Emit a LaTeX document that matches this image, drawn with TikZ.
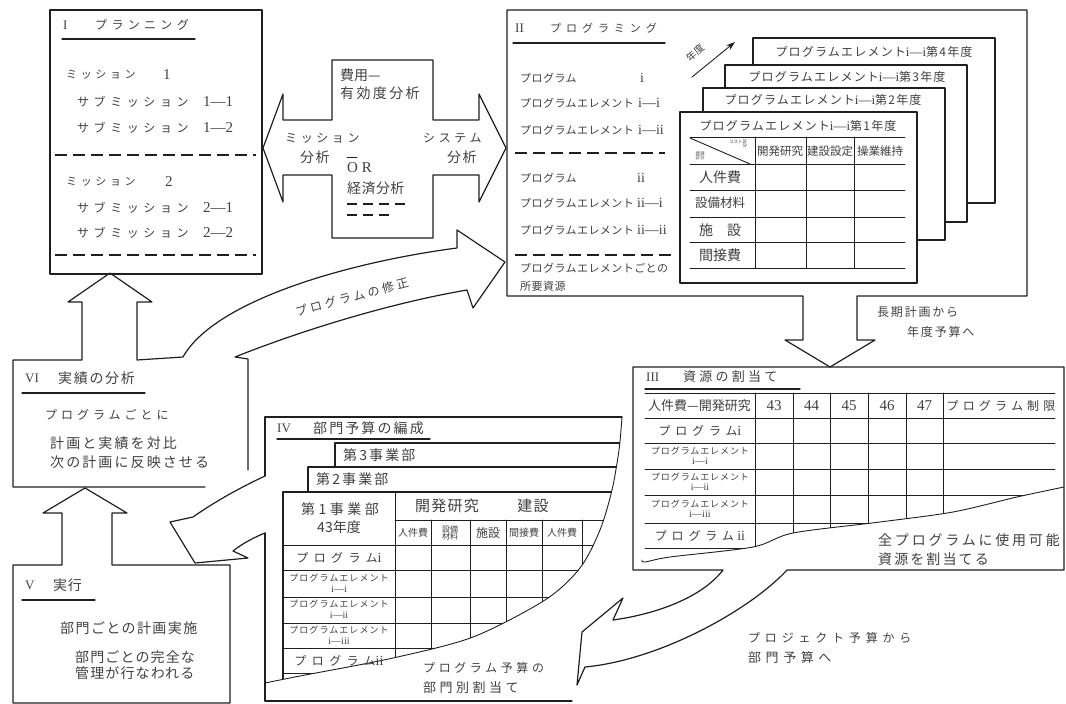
\documentclass[tikz,border=0pt]{standalone}
\usepackage{fontspec}
\newfontfamily\jp{Noto Sans CJK JP}
\newfontfamily\lat{Liberation Serif}
\usetikzlibrary{arrows.meta}
\definecolor{tc}{gray}{0.25}
\definecolor{lc}{gray}{0.12}
\newcommand\jf[2]{\jp\fontsize{#1}{#1}\selectfont\addfontfeatures{LetterSpace=#2}}
\newcommand\lf[1]{\lat\fontsize{#1}{#1}\selectfont}
\newcommand\PE[1]{{\jf{12}{10}プログラムエレメント}{\lf{13}i—i}{\jf{12}{10}第#1年度}}
\begin{document}
\begin{tikzpicture}[x=1pt,y=-1pt,line cap=round,line join=round,
  ln/.style={draw=lc,line width=1.2pt},
  gl/.style={draw=lc,line width=0.9pt},
  ds/.style={draw=lc,line width=1.4pt,line cap=butt,dash pattern=on 12pt off 6pt},
  tw/.style={inner sep=0pt,anchor=west,text=tc},
  tcn/.style={inner sep=0pt,anchor=center,text=tc,align=center}]
\useasboundingbox (0,0) rectangle (1066,704);

% ---------------- Panel I
\draw[ln] (50,10) rectangle (262,274);
\node[tw,font=\lf{13}] (p1a) at (63,25) {I};
\node[tw,font=\jf{12}{36}] (p1b) at (95,25) {プランニング};
\draw[ln] (62,39) -- (195,39);
\node[tw,font=\jf{11}{33}] (m1) at (66,75) {ミッション};
\node[tw,font=\lf{15}] (m1n) at (163,75) {1};
\node[tw,font=\jf{12}{38}] (s11) at (77,102) {サブミッション};
\node[tw,font=\lf{15}] (s11n) at (203,102) {1—1};
\node[tw,font=\jf{12}{38}] (s12) at (77,128) {サブミッション};
\node[tw,font=\lf{15}] (s12n) at (203,128) {1—2};
\draw[ds] (55,155) -- (256,155);
\node[tw,font=\jf{11}{33}] (m2) at (66,182) {ミッション};
\node[tw,font=\lf{15}] (m2n) at (165,182) {2};
\node[tw,font=\jf{12}{38}] (s21) at (77,208) {サブミッション};
\node[tw,font=\lf{15}] (s21n) at (203,208) {2—1};
\node[tw,font=\jf{12}{38}] (s22) at (77,233) {サブミッション};
\node[tw,font=\lf{15}] (s22n) at (203,233) {2—2};
\draw[ds] (55,255) -- (256,255);

% ---------------- Cross double arrow
\draw[ln] (332,60) -- (433,60) -- (433,120) -- (479,120) -- (479,94) -- (506,148)
  -- (479,202) -- (479,175) -- (433,175) -- (433,238) -- (332,238) -- (332,175)
  -- (283,175) -- (283,202) -- (263,148) -- (283,94) -- (283,120) -- (332,120) -- cycle;
\node[tw,font=\jf{14}{0}] (c1) at (340,75) {費用—};
\node[tw,font=\jf{14}{17}] (c2) at (340,93) {有効度分析};
\node[tw,font=\jf{12}{30}] (c3) at (285,138) {ミッション};
\node[tw,font=\jf{14}{10}] (c4) at (300,157) {分析};
\node[tw,font=\jf{12}{30}] (c5) at (423,138) {システム};
\node[tw,font=\jf{14}{10}] (c6) at (447,157) {分析};
\node[tw,font=\lf{15}] (c7) at (347,168) {O R};
\draw[gl] (347,157) -- (357,157);
\node[tw,font=\jf{14}{3}] (c8) at (347,188) {経済分析};
\draw[ln,line cap=butt,dash pattern=on 10pt off 6pt] (347,204) -- (405,204);
\draw[ln,line cap=butt,dash pattern=on 10pt off 6pt] (347,215) -- (392,215);

% ---------------- Panel II with down arrow to III
\draw[ln] (507,10) -- (1027,10) -- (1027,296) -- (857,296) -- (857,340) -- (875,340)
  -- (830,367) -- (785,340) -- (803,340) -- (803,296) -- (507,296) -- cycle;
\node[tw,font=\lf{13}] (p2a) at (515,28) {II};
\node[tw,font=\jf{11}{45}] (p2b) at (550,28) {プログラミング};
\draw[ln] (513,43) -- (665,43);
\node[tw,font=\jf{11}{4}] (q1) at (520,78) {プログラム};
\node[tw,font=\lf{14}] (q1n) at (640,78) {i};
\node[tw,font=\jf{11}{4}] (q2) at (520,103) {プログラムエレメント};
\node[tw,font=\lf{14}] (q2n) at (638,103) {i—i};
\node[tw,font=\jf{11}{4}] (q3) at (520,130) {プログラムエレメント};
\node[tw,font=\lf{14}] (q3n) at (638,130) {i—ii};
\draw[ds] (515,153) -- (665,153);
\node[tw,font=\jf{11}{4}] (q4) at (520,178) {プログラム};
\node[tw,font=\lf{14}] (q4n) at (637,178) {ii};
\node[tw,font=\jf{11}{4}] (q5) at (520,203) {プログラムエレメント};
\node[tw,font=\lf{14}] (q5n) at (637,203) {ii—i};
\node[tw,font=\jf{11}{4}] (q6) at (520,230) {プログラムエレメント};
\node[tw,font=\lf{14}] (q6n) at (637,230) {ii—ii};
\draw[ds] (515,255) -- (672,255);
\node[tw,font=\jf{11}{4}] (q7) at (520,268) {プログラムエレメントごとの};
\node[tw,font=\jf{11}{4}] (q8) at (520,286) {所要資源};

% year arrow
\draw[gl,-{Stealth[length=9pt,width=6pt]}] (692,77) -- (735,42);
\node[tcn,font=\jf{10}{0},rotate=42] (yr) at (695,53) {年度};

% stacked sheets
\draw[ln,fill=white] (753,38) rectangle (995,203);
\node[tcn] (t4) at (874,52) {\PE{4}};
\draw[ln,fill=white] (725,65) rectangle (967,222);
\node[tcn] (t3) at (847,77) {\PE{3}};
\draw[ln,fill=white] (703,88) rectangle (945,240);
\node[tcn] (t2) at (823,100) {\PE{2}};
\draw[ln,fill=white] (680,112) rectangle (917,283);
\node[tcn] (t1) at (798,126) {\PE{1}};
\foreach \yy in {137,164,190,217,242,268} \draw[gl] (690,\yy) -- (905,\yy);
\foreach \xx in {755,806,854} \draw[gl] (\xx,137) -- (\xx,268);
\draw[gl] (690,138) -- (750,164);
\node[tcn,font=\jf{4.5}{0}] (k1) at (738,144) {コスト区\\\hfill 分};
\node[tcn,font=\jf{4.5}{0}] (k2) at (700,156) {資源\\区分};
\node[tcn,font=\jf{11.5}{0}] (h1) at (780,151) {開発研究};
\node[tcn,font=\jf{11.5}{0}] (h2) at (830,151) {建設設定};
\node[tcn,font=\jf{11.5}{0}] (h3) at (880,151) {操業維持};
\node[tcn,font=\jf{14}{0}] (r1) at (720,177) {人件費};
\node[tcn,font=\jf{12.5}{0}] (r2) at (720,203) {設備材料};
\node[tcn,font=\jf{14}{0}] (r3) at (720,230) {施\hspace{14pt}設};
\node[tcn,font=\jf{14}{0}] (r4) at (720,255) {間接費};
\node[tw,font=\jf{12}{15}] (l1) at (877,312) {長期計画から};
\node[tw,font=\jf{12}{15}] (l2) at (907,332) {年度予算へ};

% ---------------- Panel III with arrow to IV
\draw[ln] (633,367) -- (1064,367) -- (1064,570) -- (787,570)
  .. controls (750,610) and (660,660) .. (585,667) -- (577,685) -- (582,632)
  -- (623,598) -- (613,620) .. controls (650,615) and (700,600) .. (723,570)
  -- (633,570) -- cycle;
\node[tw,font=\lf{13}] (p3a) at (646,377) {III};
\node[tw,font=\jf{13}{25}] (p3b) at (683,377) {資源の割当て};
\draw[ln] (645,389) -- (800,389);
\begin{scope}
\clip (633,380) -- (1064,380) -- (1064,487) -- plot[smooth] coordinates {(1064,487) (1017,497) (953,512) (880,522) (793,533) (753,547) (670,557) (642,560)} -- (633,560) -- cycle;
\foreach \yy in {393,418,443,469,495,523,548} \draw[gl] (645,\yy) -- (1055,\yy);
\foreach \xx in {755,793,830,868,906,943} \draw[gl] (\xx,393) -- (\xx,565);
\end{scope}
\draw[gl] plot[smooth] coordinates {(1064,487) (1017,497) (953,512) (880,522) (793,533) (753,547) (670,557) (645,562) (642,560)};
\node[tw,font=\jf{13}{0}] (g0) at (648,405.5) {人件費—開発研究};
\foreach \xx/\nn [count=\i] in {774/43,811.5/44,849/45,887/46,924.5/47}
  \node[tcn,font=\lf{15}] (g\i) at (\xx,405.5) {\nn};
\node[tcn,font=\jf{12}{35}] (g6) at (1001,405.5) {プログラム制限};
\node[tcn] (g7) at (700,430.5) {{\jf{12}{40}プログラム}{\lf{14}i}};
\node[tcn,font=\jf{9}{10}] (g8) at (700,451) {プログラムエレメント};
\node[tcn,font=\lf{10}] (g8n) at (700,461) {i—i};
\node[tcn,font=\jf{9}{10}] (g9) at (700,477) {プログラムエレメント};
\node[tcn,font=\lf{10}] (g9n) at (700,487) {i—ii};
\node[tcn,font=\jf{9}{10}] (g10) at (700,504) {プログラムエレメント};
\node[tcn,font=\lf{10}] (g10n) at (700,514) {i—iii};
\node[tcn] (g11) at (700,535.5) {{\jf{12}{40}プログラム}{\lf{14} ii}};
\node[tw,font=\jf{14}{20}] (g12) at (878,540) {全プログラムに使用可能};
\node[tw,font=\jf{14}{15}] (g13) at (878,559) {資源を割当てる};
\node[tw,font=\jf{12}{40}] (g14) at (748,638) {プロジェクト予算から};
\node[tw,font=\jf{13}{35}] (g15) at (748,658) {部門予算へ};

% ---------------- Panel IV with arrow to V
\draw[ln] (265,476) -- (265,417) -- (622,417);
\draw[ln] (265,533) -- (265,701) -- (572,701);
\draw[ln] (265,476) .. controls (235,490) and (210,505) .. (193,517) -- (170,522)
  -- (195,563) -- (248,558) -- (233,551) .. controls (243,543) and (255,537) .. (265,533);
\node[tw,font=\lf{13}] (p4a) at (277,428) {IV};
\node[tw,font=\jf{14}{15}] (p4b) at (313,428) {部門予算の編成};
\draw[ln] (277,439) -- (430,439);
\begin{scope}
\clip (265,417) -- (622,417) -- plot[smooth] coordinates {(622,417) (619,450) (612,490) (600,530) (580,568) (545,600) (473,637) (393,658) (300,676) (265,683)} -- cycle;
\draw[ln] (335,467) -- (335,443) -- (640,443);
\draw[ln] (308,492) -- (308,467) -- (640,467);
\draw[ln] (283,700) -- (283,492) -- (640,492);
\draw[gl] (395,492) -- (395,690);
\draw[gl] (395,520) -- (640,520);
\foreach \xx in {431,470,506,542,582} \draw[gl] (\xx,520) -- (\xx,690);
\foreach \yy in {545,570,597,623,648,673} \draw[gl] (283,\yy) -- (640,\yy);
\end{scope}
\draw[gl] plot[smooth] coordinates {(622,417) (619,450) (612,490) (600,530) (580,568) (545,600) (473,637) (393,658) (300,676) (265,683)};
\node[tw,font=\jf{14}{15}] (d3) at (343,455) {第3事業部};
\node[tw,font=\jf{14}{15}] (d2) at (316,479) {第2事業部};
\node[tcn,font=\jf{14}{25}] (d1) at (340,509) {第1事業部};
\node[tcn,font=\jf{14}{0}] (d1y) at (339,527) {43年度};
\node[tcn,font=\jf{15}{8}] (e1) at (447,506) {開発研究};
\node[tcn,font=\jf{15}{8}] (e2) at (533,506) {建設};
\node[tcn,font=\jf{10}{0}] (f1) at (413,533) {人件費};
\node[tcn,font=\jf{8}{0}] (f2) at (450,533) {設備\\[-1pt]材料};
\node[tcn,font=\jf{12}{0}] (f3) at (488,533) {施設};
\node[tcn,font=\jf{10}{0}] (f4) at (524,533) {間接費};
\node[tcn,font=\jf{10}{0}] (f5) at (562,533) {人件費};
\node[tcn] (u1) at (339,558) {{\jf{12}{45}プログラム}{\lf{14}i}};
\node[tcn,font=\jf{9}{12}] (u2) at (339,578) {プログラムエレメント};
\node[tcn,font=\lf{10}] (u2n) at (339,589) {i—i};
\node[tcn,font=\jf{9}{12}] (u3) at (339,604) {プログラムエレメント};
\node[tcn,font=\lf{10}] (u3n) at (339,615) {i—ii};
\node[tcn,font=\jf{9}{12}] (u4) at (339,630) {プログラムエレメント};
\node[tcn,font=\lf{10}] (u4n) at (339,641) {i—iii};
\node[tcn] (u5) at (339,661) {{\jf{12}{45}プログラム}{\lf{14}ii}};
\node[tw,font=\jf{12}{30}] (w1) at (423,668) {プログラム予算の};
\node[tw,font=\jf{13}{27}] (w2) at (423,688) {部門別割当て};

% ---------------- Panel V with up arrow to VI
\draw[ln] (62,565) -- (13,565) -- (13,703) -- (230,703) -- (230,565) -- (112,565)
  -- (112,513) -- (127,513) -- (85,488) -- (43,513) -- (62,513) -- cycle;
\node[tw,font=\lf{13}] (p5a) at (25,585) {V};
\node[tw,font=\jf{14}{5}] (p5b) at (53,585) {実行};
\draw[ln] (22,600) -- (95,600);
\node[tw,font=\jf{14}{10}] (v1) at (60,628) {部門ごとの計画実施};
\node[tw,font=\jf{14}{8}] (v2) at (75,657) {部門ごとの完全な};
\node[tw,font=\jf{14}{8}] (v3) at (75,673) {管理が行なわれる};

% ---------------- Panel VI with up arrow to I and curved arrow to II
\draw[ln] (205,487) -- (13,487) -- (13,360) -- (82,360) -- (82,302) -- (68,302)
  -- (110,273) -- (152,302) -- (137,302) -- (137,360) -- (183,357)
  .. controls (215,300) and (350,262) .. (457,248) -- (457,230) -- (505,262)
  -- (473,308) -- (467,290) .. controls (380,305) and (290,335) .. (235,357)
  -- (248,359) -- (248,470);
\node[tw,font=\lf{13}] (p6a) at (25,378) {VI};
\node[tw,font=\jf{14}{12}] (p6b) at (58,378) {実績の分析};
\draw[ln] (22,393) -- (145,393);
\node[tw,font=\jf{12}{33}] (x1) at (45,415) {プログラムごとに};
\node[tw,font=\jf{14}{15}] (x2) at (50,443) {計画と実績を対比};
\node[tw,font=\jf{14}{15}] (x3) at (50,462) {次の計画に反映させる};
\node[tcn,font=\jf{12}{25},rotate=15] (x4) at (352,297) {プログラムの修正};
\end{tikzpicture}
\end{document}
